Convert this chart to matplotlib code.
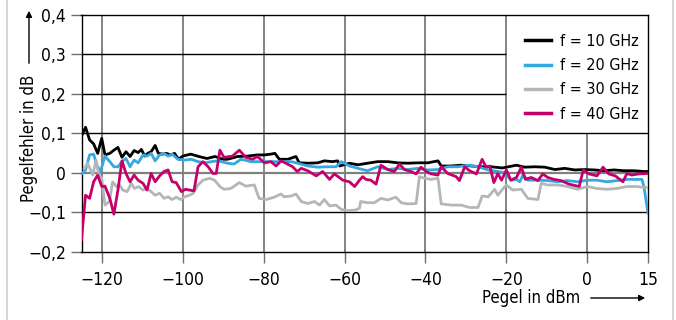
import matplotlib
matplotlib.use("Agg")
import matplotlib.pyplot as plt
from matplotlib.lines import Line2D
from matplotlib.ticker import FuncFormatter

plt.rcParams["font.family"] = ["DejaVu Sans"]
plt.rcParams["font.stretch"] = "condensed"

# level error (dB) vs. level (dBm)
x_10 = [-125, -124, -123, -122, -121, -120, -119.2, -118, -117, -116, -115, -114,
        -113, -112, -111, -110.2, -109.4, -108.6, -107.8, -106.8, -106, -105, -104,
        -103, -102, -101, -100, -98, -96, -94, -92, -90, -88.9, -86.4, -84, -81.5,
        -79.8, -78.2, -77.2, -76.1, -74, -72, -71.2, -69, -66.6, -65, -63, -61.7,
        -61.2, -58.8, -56.7, -54.3, -51.8, -49.3, -46.9, -44.4, -41.9, -39.4, -36.9,
        -36.1, -33.6, -31.2, -28.7, -26.2, -23.7, -21, -20, -17.5, -15.5, -13, -10.5,
        -8, -5.6, -3.1, -0.7, 1.7, 4.1, 6.6, 9.1, 11.6, 14, 15]
y_10 = [0.093, 0.115, 0.083, 0.073, 0.049, 0.087, 0.045, 0.049, 0.057, 0.064, 0.039,
        0.053, 0.041, 0.056, 0.051, 0.059, 0.042, 0.049, 0.053, 0.069, 0.049, 0.047,
        0.049, 0.045, 0.049, 0.034, 0.042, 0.047, 0.041, 0.036, 0.041, 0.034, 0.034,
        0.041, 0.042, 0.045, 0.045, 0.047, 0.049, 0.034, 0.034, 0.041, 0.025, 0.024,
        0.025, 0.030, 0.028, 0.030, 0.017, 0.024, 0.020, 0.024, 0.028, 0.028, 0.025,
        0.024, 0.025, 0.025, 0.030, 0.017, 0.017, 0.019, 0.017, 0.015, 0.015, 0.012,
        0.014, 0.019, 0.014, 0.015, 0.014, 0.008, 0.011, 0.007, 0.008, 0.007, 0.005,
        0.007, 0.005, 0.005, 0.003, 0.003]

x_20 = [-125, -124, -123, -122, -121.2, -120.3, -119.2, -118, -117, -116, -115, -114,
        -113, -112, -111, -109.8, -108.8, -107.8, -106.8, -105.7, -104.6, -103.6,
        -102.6, -101.2, -99.5, -97.9, -96.2, -94.5, -92.9, -91.2, -88.9, -87.3, -85.6,
        -83.1, -80.7, -78.2, -75.7, -73.2, -71.6, -69.1, -66.6, -64.1, -62.1, -60.8,
        -58.8, -56.7, -54.3, -51.8, -49.3, -46.9, -44.4, -41.9, -39.4, -36.9, -34.5,
        -32, -29.5, -27, -24.5, -22.1, -20.5, -18.8, -17.5, -16.7, -15.9, -14.7, -12.2,
        -9.8, -7.3, -4.9, -2.4, 0, 2.4, 4.9, 7.3, 9.8, 12.2, 13.5, 14, 15]
y_20 = [-0.003, 0.007, 0.045, 0.047, 0.019, 0.003, 0.042, 0.028, 0.015, 0.015, 0.028,
        0.036, 0.015, 0.032, 0.025, 0.045, 0.042, 0.049, 0.030, 0.045, 0.049, 0.042,
        0.047, 0.034, 0.032, 0.034, 0.028, 0.025, 0.028, 0.030, 0.024, 0.022, 0.034,
        0.028, 0.028, 0.028, 0.028, 0.028, 0.024, 0.017, 0.014, 0.015, 0.015, 0.028,
        0.017, 0.011, 0.005, 0.015, 0.008, 0.011, 0.008, 0.011, 0.007, 0.008, 0.015,
        0.015, 0.019, 0.015, 0.007, 0.003, 0.000, -0.019, -0.017, -0.023, -0.006,
        -0.019, -0.019, -0.020, -0.023, -0.020, -0.023, -0.019, -0.019, -0.023, -0.020,
        -0.017, -0.017, -0.017, -0.035, -0.103]

x_30 = [-124.3, -123.5, -122.2, -121.4, -120.8, -120, -119.2, -118.1, -117.3, -116.4,
        -115.6, -114.8, -113.7, -112.7, -111.9, -110.9, -109.8, -108.8, -107.8, -106.8,
        -105.7, -104.6, -103.6, -102.6, -101.6, -100.5, -99.5, -98.3, -97.4, -96.2, -95,
        -93.3, -92.1, -90.8, -89.8, -88.1, -86, -84.4, -82.3, -81.1, -79.4, -77.4,
        -75.7, -74.9, -73.2, -72, -70.7, -69.1, -67.4, -66.2, -65, -63.7, -62.1, -60.8,
        -59.2, -57.5, -56.3, -56, -54.3, -52.6, -51, -49.3, -47.3, -46, -44.4, -42.3,
        -41.5, -40.2, -38.6, -36.9, -36.1, -33.6, -31.2, -29.1, -27, -26, -24.5, -22.9,
        -22.1, -20.8, -20, -18.4, -16.3, -14.7, -12.2, -11.4, -9.8, -7.3, -4.9, -2.4,
        0, 2.4, 4.9, 7.3, 9.8, 12.2, 15]
y_30 = [0.011, 0.024, -0.006, 0.032, -0.002, -0.014, -0.082, -0.073, -0.023, -0.035,
        -0.031, -0.044, -0.048, -0.027, -0.040, -0.035, -0.044, -0.040, -0.048, -0.057,
        -0.052, -0.065, -0.061, -0.068, -0.062, -0.068, -0.061, -0.057, -0.052, -0.031,
        -0.019, -0.014, -0.019, -0.035, -0.042, -0.040, -0.025, -0.034, -0.031, -0.065,
        -0.068, -0.062, -0.054, -0.061, -0.059, -0.054, -0.073, -0.078, -0.073, -0.082,
        -0.068, -0.084, -0.082, -0.093, -0.096, -0.095, -0.090, -0.073, -0.076, -0.076,
        -0.065, -0.069, -0.062, -0.076, -0.079, -0.078, -0.010, -0.014, -0.017, -0.014,
        -0.079, -0.082, -0.082, -0.088, -0.088, -0.059, -0.061, -0.042, -0.057, -0.040,
        -0.031, -0.044, -0.042, -0.065, -0.068, -0.027, -0.031, -0.031, -0.035, -0.042,
        -0.035, -0.040, -0.042, -0.040, -0.035, -0.035, -0.038]

x_40 = [-125, -124, -123, -122, -121, -120, -119.2, -118, -117, -116, -115, -114,
        -113, -112, -111, -109.8, -108.8, -107.8, -106.8, -105.7, -104.6, -103.6,
        -102.6, -101.6, -100.3, -99.3, -98.3, -97.2, -96.2, -95, -93.7, -92.5, -91.7,
        -90.8, -89.8, -87.7, -86, -84.4, -82.7, -81.5, -79.8, -78.2, -76.9, -75.7,
        -74.5, -72.8, -71.7, -70.7, -69.1, -67, -65.4, -63.7, -62.5, -60.4, -58.8,
        -57.5, -56.3, -55.5, -54.7, -53.5, -52.2, -51, -49.3, -47.7, -46.4, -45.2,
        -43.6, -42.3, -41.1, -39.8, -38.6, -36.9, -36.1, -34.5, -32.4, -31.6, -30.3,
        -29.1, -27.4, -26, -25, -24.1, -23.1, -22.1, -21.2, -20, -18.9, -17.5, -16.3,
        -15.3, -13.9, -12.2, -11, -9.8, -8.2, -6.5, -4.5, -2, -1, 0.4, 2.4, 3.9, 5.3,
        6.9, 8.8, 9.8, 11, 12.7, 15]
y_40 = [-0.169, -0.057, -0.065, -0.023, -0.006, -0.035, -0.034, -0.065, -0.105, -0.044,
        0.030, -0.002, -0.023, -0.006, -0.019, -0.027, -0.044, -0.002, -0.023, -0.008,
        0.003, 0.007, -0.023, -0.025, -0.048, -0.042, -0.044, -0.046, 0.015, 0.028,
        0.015, -0.002, -0.002, 0.057, 0.039, 0.042, 0.057, 0.039, 0.034, 0.041, 0.025,
        0.028, 0.017, 0.030, 0.024, 0.015, 0.003, 0.011, 0.005, -0.008, 0.003, -0.017,
        -0.003, -0.019, -0.023, -0.035, -0.019, -0.010, -0.017, -0.019, -0.029, 0.019,
        0.008, 0.003, 0.022, 0.008, 0.003, -0.003, 0.014, 0.003, -0.003, -0.006, 0.015,
        -0.002, -0.010, -0.020, 0.015, 0.005, -0.003, 0.034, 0.014, 0.017, -0.025,
        -0.002, -0.019, 0.007, -0.019, -0.012, 0.014, -0.017, -0.012, -0.020, -0.003,
        -0.012, -0.017, -0.020, -0.029, -0.035, 0.007, -0.003, -0.008, 0.014, -0.003,
        -0.008, -0.023, -0.002, -0.006, -0.003, -0.002]

labels = ["f = 10 GHz", "f = 20 GHz", "f = 30 GHz", "f = 40 GHz"]
colors = ["#000000", "#35a8e0", "#b4b7b9", "#c6006b"]

x_ticks = [-120, -100, -80, -60, -40, -20, 0, 15]
y_ticks = [-0.2, -0.1, 0, 0.1, 0.2, 0.3, 0.4]

fig = plt.figure(figsize=(6.76, 3.20), dpi=100)
ax = fig.add_axes([81.5 / 676, 68.3 / 320, 566.5 / 676, 237 / 320])
ax.set_xlim(-125, 15)
ax.set_ylim(-0.2, 0.4)

# grid drawn by hand so the legend area stays blank
ax.vlines([-120, -100, -80, -60, -40, -20], -0.2, 0.4, color="#6e6e6e", lw=1.2, zorder=1)
ax.vlines([0], -0.2, 0.1, color="#6e6e6e", lw=1.2, zorder=1)
ax.hlines([-0.1, 0.1], -125, 15, color="black", lw=1.0, zorder=1)
ax.hlines([0.2, 0.3], -125, -20, color="black", lw=1.0, zorder=1)
ax.hlines([0], -125, 15, color="#808080", lw=1.6, zorder=1)

series = [(x_10, y_10), (x_20, y_20), (x_30, y_30), (x_40, y_40)]
for (xs, ys), lab, c in zip(series, labels, colors):
    ax.plot(xs, ys, color=c, lw=2.0, label=lab, zorder=3)

for s in ax.spines.values():
    s.set_color("black")
    s.set_linewidth(1.0)

ax.set_xticks(x_ticks)
ax.set_yticks(y_ticks)
ax.xaxis.set_major_formatter(FuncFormatter(lambda v, p: f"{v:.0f}".replace("-", "\u2212")))
ax.yaxis.set_major_formatter(FuncFormatter(
    lambda v, p: "0" if abs(v) < 1e-9 else f"{v:.1f}".replace(".", ",").replace("-", "\u2212")))
ax.tick_params(axis="both", direction="out", length=8, width=1.0, color="#6e6e6e",
               labelsize=12.5)
ax.tick_params(axis="y", pad=3)
ax.tick_params(axis="x", pad=6)

leg = ax.legend(loc="upper left", bbox_to_anchor=(0.7716, 0.946), frameon=False,
                fontsize=11.5, handlelength=1.6, handletextpad=0.56, labelspacing=0.58,
                borderaxespad=0)
for h in leg.get_lines():
    h.set_linewidth(2.5)

fig.text(29 / 676, 1 - 138 / 320, "Pegelfehler in dB", rotation=90, ha="center",
         va="center", fontsize=12)
ax.annotate("", xy=(29 / 676, 1 - 8 / 320), xytext=(29 / 676, 1 - 66 / 320),
            xycoords="figure fraction", textcoords="figure fraction",
            arrowprops=dict(arrowstyle="-|>", lw=1.0, color="black", mutation_scale=9))
fig.text(531 / 676, 1 - 298 / 320, "Pegel in dBm", ha="center", va="center",
         fontsize=12)
ax.annotate("", xy=(648 / 676, 1 - 298 / 320), xytext=(588 / 676, 1 - 298 / 320),
            xycoords="figure fraction", textcoords="figure fraction",
            arrowprops=dict(arrowstyle="-|>", lw=1.0, color="black", mutation_scale=9))

# light frame at the picture edges
fig.add_artist(Line2D([7 / 676, 7 / 676], [0, 1], color="#d6d6d6", lw=1.5))
fig.add_artist(Line2D([673 / 676, 673 / 676], [0, 1], color="#d6d6d6", lw=1.5))

fig.savefig("out.png", dpi=100)
